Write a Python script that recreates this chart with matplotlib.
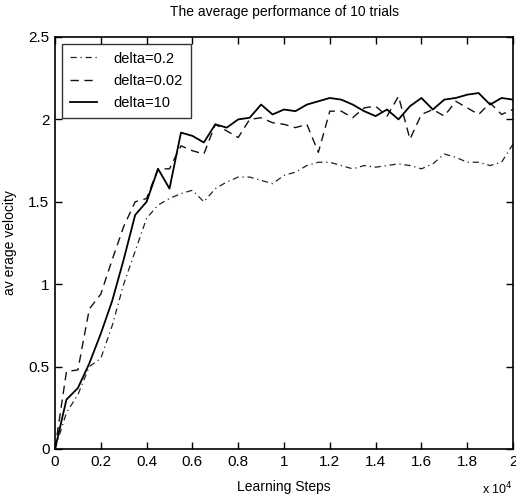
import numpy as np
import matplotlib
matplotlib.use("Agg")
import matplotlib.pyplot as plt
from matplotlib.ticker import FuncFormatter

plt.rcParams['font.family'] = ['Liberation Sans', 'DejaVu Sans']

steps = np.arange(0, 20001, 500)

delta_10 = [0, 0.30, 0.37, 0.52, 0.70, 0.90, 1.15, 1.42, 1.50, 1.70, 1.58,
            1.92, 1.90, 1.86, 1.97, 1.95, 2.00, 2.01, 2.09, 2.03, 2.06,
            2.05, 2.09, 2.11, 2.13, 2.12, 2.09, 2.05, 2.02, 2.06, 2.00,
            2.08, 2.13, 2.06, 2.12, 2.13, 2.15, 2.16, 2.09, 2.13, 2.12]

delta_002 = [0, 0.47, 0.48, 0.85, 0.94, 1.15, 1.35, 1.50, 1.52, 1.70, 1.70,
             1.84, 1.81, 1.79, 1.97, 1.93, 1.89, 2.00, 2.01, 1.98, 1.97,
             1.95, 1.97, 1.80, 2.05, 2.05, 2.01, 2.07, 2.08, 2.02, 2.14,
             1.88, 2.03, 2.06, 2.02, 2.11, 2.07, 2.03, 2.10, 2.03, 2.06]

delta_02 = [0, 0.22, 0.33, 0.50, 0.55, 0.75, 1.00, 1.20, 1.40, 1.48, 1.52,
            1.55, 1.57, 1.50, 1.58, 1.62, 1.65, 1.65, 1.63, 1.61, 1.66,
            1.68, 1.72, 1.74, 1.74, 1.72, 1.70, 1.72, 1.71, 1.72, 1.73,
            1.72, 1.70, 1.73, 1.79, 1.77, 1.74, 1.74, 1.72, 1.74, 1.85]

x_ticks = [0, 2000, 4000, 6000, 8000, 10000, 12000, 14000, 16000, 18000, 20000]
y_ticks = [0, 0.5, 1, 1.5, 2, 2.5]

fig = plt.figure(figsize=(5.16, 4.97), dpi=100)
ax = fig.add_axes([55/516, 1-449/497, (513-55)/516, (449-37)/497])

ax.plot(steps, delta_02, color='#222222', lw=0.9, linestyle=(0, (5, 3, 1, 3)), label='delta=0.2')
ax.plot(steps, delta_002, color='#111111', lw=1.0, linestyle=(0, (6, 4)), label='delta=0.02')
ax.plot(steps, delta_10, color='black', lw=1.3, linestyle='-', label='delta=10')

ax.set_xlim(0, 20000)
ax.set_ylim(0, 2.5)
ax.set_xticks(x_ticks)
ax.set_yticks(y_ticks)
ax.xaxis.set_major_formatter(FuncFormatter(lambda v, _: f"{v/1e4:g}"))
ax.yaxis.set_major_formatter(FuncFormatter(lambda v, _: f"{v:g}"))
ax.tick_params(direction='in', top=True, right=True, length=5, width=1, labelsize=11, pad=4)
for s in ax.spines.values():
    s.set_linewidth(1.2)

ax.set_title('The average performance of 10 trials', fontsize=10, pad=15)
ax.set_xlabel('Learning Steps', fontsize=10, labelpad=8)
ax.set_ylabel('av erage velocity', fontsize=10, labelpad=8)
fig.text(482/516, 1-489/497, r'x 10$^4$', fontsize=9, ha='left', va='center')

leg = ax.legend(loc='upper left', fontsize=10.5, frameon=True, fancybox=False,
                edgecolor='black', handlelength=1.9, borderpad=0.55,
                labelspacing=0.55, borderaxespad=0.45, handletextpad=1.1)
leg.get_frame().set_linewidth(1.0)

fig.savefig('out.png', dpi=100)
